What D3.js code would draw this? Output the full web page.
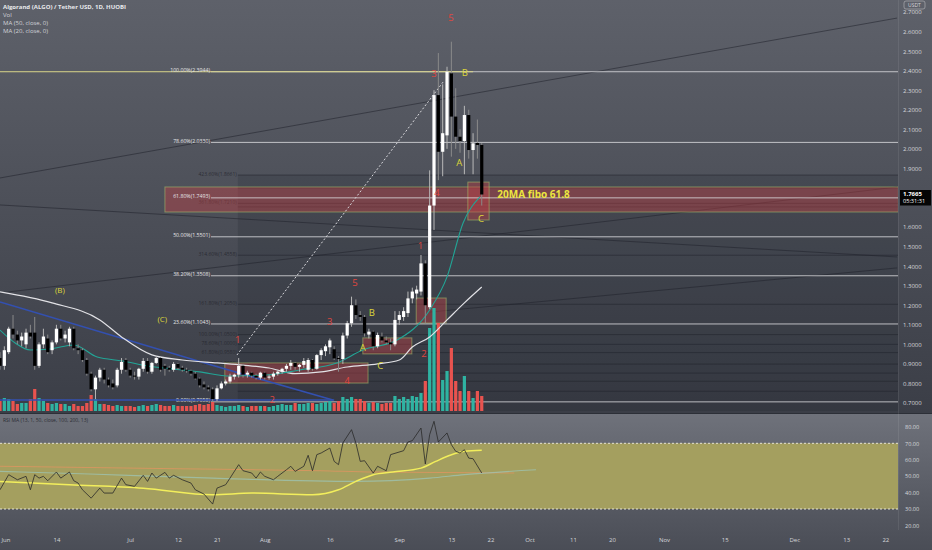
<!DOCTYPE html>
<html><head><meta charset="utf-8">
<script src="https://cdn.jsdelivr.net/npm/d3@7"></script>
<style>
body{margin:0;background:#44474f;overflow:hidden}
svg{display:block}
text{font-family:"Open Sans","DejaVu Sans",sans-serif}
</style>
</head><body>
<svg id="c" width="932" height="550"></svg>
<script>
// ---------------- DATA ----------------
const startDate = "2021-06-01"; // index 0 = Jun 1 2021, daily candles
const opens  = [0.93,0.89,0.96,1.08,1.05,1.02,1.00,1.06,1.06,0.89,1.00,1.03,0.97,1.01,1.08,1.03,1.01,1.08,0.98,0.97,
0.92,0.85,0.77,0.83,0.87,0.82,0.80,0.79,0.87,0.92,0.87,0.84,0.835,0.875,0.915,0.86,0.905,0.93,0.89,0.88,
0.87,0.90,0.88,0.87,0.865,0.85,0.825,0.795,0.78,0.77,0.72,0.775,0.80,0.81,0.835,0.845,0.89,0.845,0.855,0.84,
0.83,0.855,0.83,0.835,0.85,0.86,0.875,0.89,0.905,0.885,0.895,0.87,0.92,0.875,0.945,0.965,0.985,0.975,0.93,0.925,
1.045,1.108,1.20,1.15,1.14,1.05,1.065,0.99,1.04,1.02,1.01,1.00,1.125,1.14,1.16,1.235,1.26,1.27,1.414,1.19,
1.71,2.275,1.985,2.069,2.386,2.165,2.062,2.04,2.173,1.994,2.03,2.02];
const highs  = [0.96,0.99,1.09,1.15,1.07,1.06,1.08,1.10,1.14,1.01,1.08,1.05,1.02,1.10,1.10,1.07,1.09,1.09,1.00,0.98,
0.93,0.86,0.84,0.88,0.88,0.83,0.82,0.88,0.93,0.93,0.88,0.86,0.88,0.93,0.93,0.91,0.94,0.935,0.90,0.89,
0.91,0.905,0.89,0.88,0.87,0.86,0.83,0.81,0.79,0.78,0.79,0.81,0.82,0.85,0.85,0.93,0.90,0.865,0.86,0.85,
0.86,0.86,0.845,0.86,0.87,0.88,0.90,0.92,0.91,0.90,0.93,0.93,0.925,0.95,0.98,1.00,1.03,0.99,0.94,1.06,
1.12,1.244,1.23,1.17,1.15,1.08,1.07,1.06,1.06,1.04,1.03,1.17,1.17,1.19,1.27,1.29,1.30,1.457,1.43,1.89,
2.30,2.49,2.33,2.42,2.548,2.31,2.10,2.22,2.20,2.08,2.15,2.03];
const lows   = [0.87,0.87,0.95,1.03,1.00,0.99,0.98,1.03,0.87,0.88,0.98,0.95,0.95,1.00,1.02,1.01,0.99,0.97,0.95,0.91,
0.84,0.76,0.72,0.81,0.80,0.78,0.77,0.78,0.85,0.86,0.83,0.82,0.82,0.86,0.85,0.85,0.90,0.86,0.84,0.86,
0.86,0.87,0.86,0.855,0.84,0.82,0.78,0.77,0.76,0.7058,0.71,0.77,0.79,0.80,0.82,0.83,0.83,0.83,0.83,0.82,
0.82,0.82,0.82,0.82,0.84,0.85,0.86,0.87,0.87,0.86,0.88,0.86,0.865,0.87,0.92,0.94,0.95,0.92,0.86,0.90,
1.03,1.09,1.13,1.12,1.04,1.03,0.97,0.98,1.01,1.00,0.97,0.99,1.10,1.12,1.14,1.21,1.23,1.25,1.107,1.18,
1.585,1.84,1.86,2.00,1.96,2.00,1.98,1.87,1.95,1.87,1.95,1.71];
const closes = [0.89,0.97,1.08,1.05,1.02,1.04,1.06,1.04,0.89,1.00,1.04,0.96,1.01,1.08,1.03,1.05,1.08,0.98,0.97,0.92,
0.85,0.77,0.83,0.87,0.82,0.79,0.78,0.87,0.91,0.87,0.84,0.835,0.875,0.915,0.86,0.905,0.93,0.87,0.875,0.87,
0.90,0.88,0.87,0.865,0.85,0.825,0.79,0.78,0.77,0.72,0.775,0.80,0.81,0.835,0.845,0.89,0.845,0.855,0.84,0.83,
0.855,0.83,0.835,0.85,0.86,0.875,0.89,0.905,0.885,0.895,0.915,0.92,0.875,0.945,0.97,0.99,1.02,0.928,0.925,1.045,
1.108,1.20,1.15,1.14,1.056,1.065,0.99,1.048,1.02,1.01,1.00,1.125,1.15,1.17,1.235,1.27,1.28,1.414,1.20,1.71,
2.275,1.985,2.08,2.3944,2.165,2.062,2.04,2.173,1.994,2.028,2.02,1.7665];
const volumes = [10,13,12,10,7,8,8,12,22,13,10,8,7,8,7,7,5,7,5,5,
8,16,12,7,7,6,5,6,5,5,5,4,5,6,5,6,7,6,5,5,
6,5,5,5,5,6,7,6,7,9,6,5,4,5,5,6,5,4,5,5,
5,5,4,5,6,7,6,6,8,7,7,8,8,7,8,9,10,8,10,14,
12,14,12,12,10,8,9,8,7,8,8,15,12,14,12,15,14,18,30,83,
103,88,31,40,63,30,20,35,20,13,20,15];

// moving averages (day index, price)
const ma50Days = [0,12,23,28,35,42,50,56,62,68,74,80,87,92,95,99,103,107,111];
const ma50Vals = [1.268,1.212,1.125,1.038,0.946,0.920,0.905,0.894,0.879,0.850,0.859,0.884,0.900,0.920,0.986,1.038,1.125,1.212,1.293];
const ma20Days = [0,3.5,7,11.5,17,22.4,28.3,34,40,46,53,61.5,69,77.6,83.6,91.5,99,103,106.7,110.6];
const ma20Vals = [1.073,1.007,0.971,0.976,0.997,0.935,0.915,0.889,0.874,0.859,0.838,0.843,0.869,0.905,0.971,1.022,1.176,1.345,1.621,1.754];

// RSI pane
const rsiDays = [0,2,4,6,7,8,9,10,11,13,14,16,17,18,19,21,23,24,26,28,29,31,33,34,35,36,38,39,40,42,44,45,47,49,50,52,53,55,56,58,59,60,61,63,64,66,67,68,70,71,72,73,74,76,77,78,79,81,82,83,84,86,87,89,90,93,94,95,97,98,99,100,101,103,104,105,106,107,108,109,111];
const rsiVals = [41.7,50.9,47.8,49.9,41.7,50.9,48.8,49.9,47.2,52.5,48.8,52.5,47.2,45.8,41.7,36.6,42.7,39.7,39.7,48.8,44.8,43.8,50.5,46.8,51.9,48.8,52.3,48.8,50.5,47.8,45.8,41.7,39.1,33.0,42.7,44.8,48.8,57.0,53.3,51.9,48.8,52.5,49.9,47.8,49.9,53.9,56.0,52.9,56.0,62.7,53.3,63.1,64.1,67.1,59.0,57.0,70.2,78.3,70.2,59.0,59.4,51.9,56.0,53.3,63.1,65.5,70.8,71.6,79.3,57.4,75.3,83.4,70.8,76.3,69.2,65.1,64.1,66.1,61.0,60.6,51.9];
const rsiMaDays = [0,16,33,49,58,72,78,82,86,90.5,97,100.4,103.7,107,111];
const rsiMaVals = [46.8,44.8,42.7,38.7,39.7,38.7,41.7,46.8,50.9,52.5,54.9,59.0,62.7,65.1,65.7];
const rsiOrDays = [0,41,74,86,118.5];
const rsiOrVals = [56.0,54.5,53.3,52.5,51.9];
const rsiTlDays = [0,20.6,49,82,99,107,123.5];
const rsiTlVals = [52.9,51.3,48.8,46.8,48.8,50.9,53.9];

// axis ticks (1.8000 / 1.7000 sit under the last-price tag)
const priceTicks = [2.7,2.6,2.5,2.4,2.3,2.2,2.1,2.0,1.9,1.6,1.5,1.4,1.3,1.2,1.1,1.0,0.9,0.8,0.7];
const rsiTicks = [80,70,60,50,40,30,20];
const dateTicks = ["2021-06-01","2021-06-14","2021-07-01","2021-07-12","2021-07-21","2021-08-01","2021-08-16","2021-09-01","2021-09-13","2021-09-22","2021-10-01","2021-10-11","2021-10-20","2021-11-01","2021-11-15","2021-12-01","2021-12-13","2021-12-22"];
const dateLabels = ["Jun","14","Jul","12","21","Aug","16","Sep","13","22","Oct","11","20","Nov","15","Dec","13","22"];

// fibonacci retracement (labels as printed)
const fibLabels = ["100.00%(2.3944)","78.60%(2.0330)","61.80%(1.7493)","50.00%(1.5501)","38.20%(1.3508)","23.60%(1.1043)","0.00%(0.7058)"];
const fibPrices = [2.3944,2.0330,1.7493,1.5501,1.3508,1.1043,0.7058];
const fibStartDay = 48.6;
// second (faint) fib tool levels
const fib2Prices = [1.8661,1.800,1.721,1.703,1.4558,1.205,1.050,1.000,0.958,0.899,0.853,0.811,0.760];
const fib2Labels = ["423.60%(1.8661)","","361.80%(1.7210)","","314.60%(1.4558)","161.80%(1.2050)","100.00%(1.0500)","78.60%(1.0000)","61.80%(0.9580)","50.00%(0.8990)","","",""];
const fib2StartDay = 54.8;

// zones (day0, day1, priceTop, priceBottom)
const boxD0 = [38,107.8,51.8,83.6,95.9];
const boxD1 = [207,112.7,84.8,94.9,102.8];
const boxPT = [1.805,1.830,0.905,1.033,1.237];
const boxPB = [1.677,1.636,0.802,0.951,1.109];

// trend lines (day0, price0, day1, price1)
const tlD0 = [0,0,0,99];
const tlP0 = [1.851,1.263,1.713,1.165];
const tlD1 = [206.7,206.7,206.7,206.7];
const tlP1 = [2.669,1.805,1.447,1.391];
const blueDays = [0,49.5,76.7];
const bluePrices = [1.217,0.889,0.715];
const blueFlatDays = [0,77];
const blueFlatPrices = [0.715,0.715];
const dashDays = [54.6,102.1];
const dashPrices = [0.9455,2.342];

// wave labels
const waveText  = ["1","2","3","4","5","1","2","3","4","5","(B)","(C)","B","A","C","A","B","C"];
const waveDay   = [54.8,62.7,76,80,81.8,96.9,97.7,100,100.7,103.9,13.8,37.4,85.7,83.6,87.6,105.8,107.1,110.8];
const wavePrice = [1.022,0.715,1.114,0.812,1.314,1.500,0.946,2.383,1.774,2.669,1.273,1.125,1.160,0.981,0.889,1.923,2.388,1.641];
const waveKind  = ["r","r","r","r","r","r","r","r","r","r","y","y","y","y","y","y","y","y"];

const lastPrice = 1.7665;

// ---------------- CHART ----------------
const W = 932, H = 550, plotR = 898, mainB = 413, rsiB = 530;
const svg = d3.select("#c");
const defs = svg.append("defs");
function grad(id, c0, c1){
  const g = defs.append("linearGradient").attr("id", id).attr("x1",0).attr("y1",0).attr("x2",0).attr("y2",1);
  g.append("stop").attr("offset","0%").attr("stop-color",c0);
  g.append("stop").attr("offset","100%").attr("stop-color",c1);
}
grad("bgMain","#5e616a","#3b3e47");
grad("bgRsi","#6f727b","#4a4d56");
defs.append("clipPath").attr("id","clipMain").append("rect").attr("x",0).attr("y",0).attr("width",plotR).attr("height",mainB);
defs.append("clipPath").attr("id","clipRsi").append("rect").attr("x",0).attr("y",mainB).attr("width",plotR).attr("height",rsiB-mainB);

svg.append("rect").attr("width",W).attr("height",mainB).attr("fill","url(#bgMain)");
svg.append("rect").attr("y",mainB).attr("width",W).attr("height",H-mainB).attr("fill","url(#bgRsi)");

const parse = d3.utcParse("%Y-%m-%d");
const t0 = parse(startDate);
const DAY = 864e5;
const toDate = d => new Date(+t0 + d*DAY);
const x = d3.scaleUtc().domain([t0, toDate(206.68)]).range([0, 897]);
const dx = d => x(toDate(d));
const y = d3.scaleLinear().domain([0.7, 2.7]).range([403, 12]);
const yv = d3.scaleLinear().domain([0, 100]).range([411, 311]);
const yr = d3.scaleLinear().domain([30, 70]).range([509, 443.3]);

const candles = closes.map((c,i)=>({d:i,o:opens[i],h:highs[i],l:lows[i],c:c,v:volumes[i]}));

const main = svg.append("g").attr("clip-path","url(#clipMain)");

// shaded region of second fib tool
main.append("rect").attr("x",dx(fib2StartDay)).attr("y",y(fib2Prices[0]))
  .attr("width",plotR-dx(fib2StartDay)).attr("height",411-y(fib2Prices[0]))
  .attr("fill","rgba(10,12,20,0.13)");

// second fib levels (dark)
main.selectAll(".f2").data(fib2Prices).join("line")
  .attr("x1",dx(fib2StartDay)).attr("x2",plotR)
  .attr("y1",d=>y(d)).attr("y2",d=>y(d))
  .attr("stroke","rgba(30,32,40,0.6)").attr("stroke-width",0.8);
main.selectAll(".f2t").data(fib2Prices).join("text")
  .attr("x",dx(fib2StartDay)-1).attr("y",d=>y(d)+1)
  .attr("text-anchor","end").attr("font-size",5).attr("fill","rgba(30,32,40,0.75)")
  .text((d,i)=>fib2Labels[i]);

// trend lines
main.selectAll(".tl").data(tlD0).join("line")
  .attr("x1",(d,i)=>dx(tlD0[i])).attr("y1",(d,i)=>y(tlP0[i]))
  .attr("x2",(d,i)=>dx(tlD1[i])).attr("y2",(d,i)=>y(tlP1[i]))
  .attr("stroke","rgba(32,34,42,0.6)").attr("stroke-width",0.9);

// boxes
main.selectAll(".bx").data(boxD0).join("rect")
  .attr("x",(d,i)=>dx(boxD0[i])).attr("y",(d,i)=>y(boxPT[i]))
  .attr("width",(d,i)=>dx(boxD1[i])-dx(boxD0[i])).attr("height",(d,i)=>y(boxPB[i])-y(boxPT[i]))
  .attr("fill","rgba(196,64,70,0.42)").attr("stroke","rgba(170,195,110,0.55)").attr("stroke-width",1);

// fib retracement lines
main.selectAll(".fl").data(fibPrices).join("line")
  .attr("x1",dx(fibStartDay)).attr("x2",plotR)
  .attr("y1",d=>y(d)).attr("y2",d=>y(d))
  .attr("stroke","rgba(225,225,228,0.78)").attr("stroke-width",1);
main.append("line").attr("x1",0).attr("x2",dx(109)).attr("y1",y(fibPrices[0])).attr("y2",y(fibPrices[0]))
  .attr("stroke","#d9d68a").attr("stroke-width",1);
main.selectAll(".flt").data(fibPrices).join("text")
  .attr("x",dx(fibStartDay)-1).attr("y",d=>y(d)+0.5)
  .attr("text-anchor","end").attr("font-size",5.2).attr("fill","#e6e6e8")
  .text((d,i)=>fibLabels[i]);

// volume
main.selectAll(".vol").data(candles).join("rect")
  .attr("x",d=>dx(d.d)-1.6).attr("width",3.2)
  .attr("y",d=>yv(d.v)).attr("height",d=>yv(0)-yv(d.v))
  .attr("fill",d=>d.c>=d.o?"#2fb3a2":"#e8534f");

// blue lines
const lineP = d3.line().x(d=>dx(d[0])).y(d=>y(d[1]));
main.append("path").attr("d",lineP(blueDays.map((d,i)=>[d,bluePrices[i]])))
  .attr("fill","none").attr("stroke","#3350b0").attr("stroke-width",1.6);
main.append("path").attr("d",lineP(blueFlatDays.map((d,i)=>[d,blueFlatPrices[i]])))
  .attr("fill","none").attr("stroke","#3350b0").attr("stroke-width",1.6);

// moving averages
const curveP = d3.line().x(d=>dx(d[0])).y(d=>y(d[1])).curve(d3.curveMonotoneX);
main.append("path").attr("d",curveP(ma50Days.map((d,i)=>[d,ma50Vals[i]])))
  .attr("fill","none").attr("stroke","#e2e2e6").attr("stroke-width",1.2);
main.append("path").attr("d",curveP(ma20Days.map((d,i)=>[d,ma20Vals[i]])))
  .attr("fill","none").attr("stroke","#22a596").attr("stroke-width",1.1);

// dashed wave line
main.append("path").attr("d",lineP(dashDays.map((d,i)=>[d,dashPrices[i]])))
  .attr("fill","none").attr("stroke","#d8d8dc").attr("stroke-width",1).attr("stroke-dasharray","2,2");

// candles
const cg = main.append("g");
cg.selectAll(".wk").data(candles).join("line")
  .attr("x1",d=>dx(d.d)).attr("x2",d=>dx(d.d))
  .attr("y1",d=>y(d.h)).attr("y2",d=>y(d.l))
  .attr("stroke",d=>d.c>=d.o?"#b8b8b8":"#8a8a8a").attr("stroke-width",1);
cg.selectAll(".bd").data(candles).join("rect")
  .attr("x",d=>dx(d.d)-1.6).attr("width",3.2)
  .attr("y",d=>y(Math.max(d.o,d.c)))
  .attr("height",d=>Math.max(1,Math.abs(y(d.o)-y(d.c))))
  .attr("fill",d=>d.c>=d.o?"#ffffff":"#000000");

// wave labels
main.selectAll(".wl").data(waveText).join("text")
  .attr("x",(d,i)=>dx(waveDay[i])).attr("y",(d,i)=>y(wavePrice[i]))
  .attr("text-anchor","middle").attr("dominant-baseline","middle")
  .attr("font-size",(d,i)=>d.length>1?8:9.5)
  .attr("fill",(d,i)=>waveKind[i]==="r"?"#e0473f":"#dcd63a")
  .text(d=>d);

main.append("text").attr("x",dx(114.6)).attr("y",y(1.7493)+0.5)
  .attr("font-size",10).attr("font-weight","bold").attr("fill","#ece640")
  .text("20MA fibo 61.8");

// ---------------- RSI PANE ----------------
const rsi = svg.append("g").attr("clip-path","url(#clipRsi)");
rsi.append("rect").attr("x",0).attr("width",plotR).attr("y",yr(70)).attr("height",yr(30)-yr(70)).attr("fill","#a49f5f");
[70,30].forEach(v=>rsi.append("line").attr("x1",0).attr("x2",plotR).attr("y1",yr(v)).attr("y2",yr(v))
  .attr("stroke","#e6e4d2").attr("stroke-width",1).attr("stroke-dasharray","2,2"));
const lineR = d3.line().x(d=>dx(d[0])).y(d=>yr(d[1]));
const curveR = d3.line().x(d=>dx(d[0])).y(d=>yr(d[1])).curve(d3.curveMonotoneX);
rsi.append("path").attr("d",curveR(rsiOrDays.map((d,i)=>[d,rsiOrVals[i]])))
  .attr("fill","none").attr("stroke","#df9560").attr("stroke-width",1.1).attr("opacity",0.8);
rsi.append("path").attr("d",curveR(rsiTlDays.map((d,i)=>[d,rsiTlVals[i]])))
  .attr("fill","none").attr("stroke","#9cc7bb").attr("stroke-width",1.1).attr("opacity",0.7);
rsi.append("path").attr("d",curveR(rsiMaDays.map((d,i)=>[d,rsiMaVals[i]])))
  .attr("fill","none").attr("stroke","#f2ee5c").attr("stroke-width",1.5);
rsi.append("path").attr("d",lineR(rsiDays.map((d,i)=>[d,rsiVals[i]])))
  .attr("fill","none").attr("stroke","#2a2a2a").attr("stroke-width",0.8);

// separators
svg.append("line").attr("x1",0).attr("x2",W).attr("y1",mainB+0.5).attr("y2",mainB+0.5).attr("stroke","#2c2f37").attr("stroke-width",1);
svg.append("line").attr("x1",plotR+0.5).attr("x2",plotR+0.5).attr("y1",0).attr("y2",rsiB).attr("stroke","rgba(255,255,255,0.08)");

// ---------------- AXES ----------------
const ay = svg.append("g").attr("transform",`translate(${plotR+5},0)`)
  .call(d3.axisRight(y).tickValues(priceTicks).tickFormat(d3.format(".4f")).tickSize(0).tickPadding(0));
ay.select(".domain").remove();
ay.selectAll("text").attr("font-size",6).attr("fill","#d6d7db").attr("font-family","'Open Sans',sans-serif");

const ar = svg.append("g").attr("transform",`translate(${plotR+7},0)`)
  .call(d3.axisRight(yr).tickValues(rsiTicks).tickFormat(d3.format(".2f")).tickSize(0).tickPadding(0));
ar.select(".domain").remove();
ar.selectAll("text").attr("font-size",5.6).attr("fill","#d6d7db").attr("font-family","'Open Sans',sans-serif");

const ax = svg.append("g").attr("transform",`translate(0,${rsiB+8})`)
  .call(d3.axisBottom(x).tickValues(dateTicks.map(parse)).tickFormat((d,i)=>dateLabels[i]).tickSize(0).tickPadding(0));
ax.select(".domain").remove();
ax.selectAll("text").attr("font-size",6).attr("fill","#d6d7db").attr("font-family","'Open Sans',sans-serif");
ax.selectAll("text").filter((d,i)=>i===0).attr("text-anchor","start").attr("x",1);

// last price tag
const lpY = y(lastPrice);
svg.append("rect").attr("x",plotR+2).attr("y",lpY-4.5).attr("width",31).attr("height",15.5).attr("fill","#050505");
svg.append("text").attr("x",plotR+5).attr("y",lpY+2).attr("font-size",6).attr("font-weight","bold").attr("fill","#ffffff").text("1.7665");
svg.append("text").attr("x",plotR+5).attr("y",lpY+9).attr("font-size",5.6).attr("fill","#ffffff").text("05:31:31");

// USDT tag
svg.append("rect").attr("x",plotR+6).attr("y",1).attr("width",21).attr("height",8).attr("rx",2)
  .attr("fill","none").attr("stroke","#b8b9be").attr("stroke-width",0.6);
svg.append("text").attr("x",plotR+16.5).attr("y",7.3).attr("text-anchor","middle").attr("font-size",5).attr("fill","#d6d7db").text("USDT");

// legends
const legend = ["Algorand (ALGO) / Tether USD, 1D, HUOBI","Vol","MA (50, close, 0)","MA (20, close, 0)"];
svg.selectAll(".lg").data(legend).join("text")
  .attr("x",3).attr("y",(d,i)=>9+i*8.1)
  .attr("font-size",6).attr("font-weight",(d,i)=>i===0?"bold":"normal")
  .attr("fill",(d,i)=>i===0?"#e8e9ec":"#d2d3d8").text(d=>d);
svg.append("text").attr("x",3).attr("y",422).attr("font-size",5).attr("fill","#2b2d34")
  .text("RSI MA (13, 1, 50, close, 100, 200, 13)");
</script>
</body></html>
